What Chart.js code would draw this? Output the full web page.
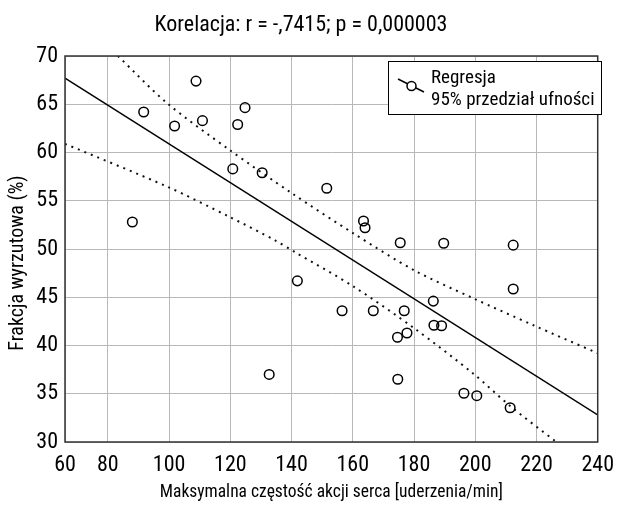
<!DOCTYPE html>
<html>
<head>
<meta charset="utf-8">
<script src="https://cdn.jsdelivr.net/npm/chart.js@4/dist/chart.umd.min.js"></script>
<style>
    html, body { margin: 0; padding: 0; background: #fff; }
</style>
</head>
<body>
<canvas id="wykres" width="624" height="512"></canvas>
<script>
const FONT = "Roboto, 'DejaVu Sans Condensed', sans-serif";
const WASKI = 'condensed'; // wąski krój (Roboto ma oś szerokości)

// punkty pomiarowe
const tetno = [88, 91.7, 101.8, 108.8, 110.9, 120.8, 122.4, 124.8, 130.4, 132.7,
    141.9, 151.5, 163.5, 164, 156.5, 166.7, 175.5, 176.8, 177.7, 174.6,
    174.7, 186.3, 186.5, 189, 189.7, 196.3, 200.5, 211.4, 212.4, 212.4];
const frakcja = [52.8, 64.2, 62.75, 67.4, 63.3, 58.3, 62.9, 64.65, 57.9, 37.0,
    46.7, 56.3, 52.9, 52.2, 43.6, 43.6, 50.65, 43.6, 41.3, 40.85,
    36.5, 44.6, 42.1, 42.05, 50.6, 35.05, 34.8, 33.55, 50.4, 45.85];

// prosta regresji
const regresjaX = [66, 240];
const regresjaY = [67.7, 32.8];

// 95% przedzial ufnosci
const gornaX = [83.3, 99.4, 119.6, 140, 160.3, 180, 199.3, 219, 240];
const gornaY = [70, 65.1, 60.3, 55.8, 51.6, 47.8, 44.9, 42.1, 39.2];
const dolnaX = [66, 99.4, 119.6, 134.6, 141, 160.3, 180, 199.3, 211.5, 226.5];
const dolnaY = [60.9, 56.46, 53.35, 50.9, 49.7, 46.1, 41.8, 37.1, 33.7, 30];

// osie
const xTicks = [66, 80, 100, 120, 140, 160, 180, 200, 220, 240];
const xTickLabels = ['60', '80', '100', '120', '140', '160', '180', '200', '220', '240'];

const tytul = 'Korelacja: r = -,7415; p = 0,000003';
const tytulY = 'Frakcja wyrzutowa (%)';
const legenda = ['Regresja', '95% przedział ufności'];

const pary = (xs, ys) => xs.map((x, i) => ({ x: x, y: ys[i] }));

const ramka = {
    id: 'ramka',
    afterDraw(chart) {
        const { ctx, chartArea: a } = chart;
        ctx.save();
        ctx.strokeStyle = '#333';
        ctx.lineWidth = 1.5;
        ctx.strokeRect(a.left, a.top, a.right - a.left, a.bottom - a.top);

        ctx.fillStyle = '#000';
        ctx.font = WASKI + ' 22px ' + FONT;
        ctx.textAlign = 'center';
        ctx.textBaseline = 'alphabetic';
        ctx.fillText(tytul, 301, 31);

        // tytul osi Y (przesuniety w dol jak w oryginale)
        ctx.save();
        ctx.translate(18, 263);
        ctx.rotate(-Math.PI / 2);
        ctx.font = WASKI + ' 20px ' + FONT;
        ctx.textBaseline = 'middle';
        ctx.fillText(tytulY, 0, 0);
        ctx.restore();

        // legenda
        ctx.fillStyle = '#fff';
        ctx.fillRect(388.5, 61.5, 213, 53);
        ctx.strokeStyle = '#000';
        ctx.lineWidth = 1;
        ctx.strokeRect(388.5, 61.5, 213, 53);
        ctx.lineWidth = 1.5;
        ctx.beginPath();
        ctx.moveTo(398, 79);
        ctx.lineTo(424, 92);
        ctx.stroke();
        ctx.beginPath();
        ctx.arc(411.5, 86, 4.5, 0, Math.PI * 2);
        ctx.fillStyle = '#fff';
        ctx.fill();
        ctx.stroke();
        ctx.fillStyle = '#000';
        ctx.font = WASKI + ' 19px ' + FONT;
        ctx.textAlign = 'left';
        ctx.fillText(legenda[0], 431, 83);
        ctx.fillText(legenda[1], 431, 105);
        ctx.restore();
    }
};

Chart.defaults.font.family = FONT;
Chart.defaults.font.weight = WASKI;
Chart.defaults.color = '#000';

new Chart(document.querySelector('#wykres'), {
    type: 'scatter',
    data: {
        datasets: [
            {
                data: pary(tetno, frakcja),
                pointStyle: 'circle',
                pointRadius: 4.8,
                borderColor: '#000',
                borderWidth: 1.5,
                backgroundColor: 'rgba(0,0,0,0)'
            },
            {
                data: pary(regresjaX, regresjaY),
                showLine: true,
                pointRadius: 0,
                borderColor: '#000',
                borderWidth: 1.5
            },
            {
                data: pary(gornaX, gornaY),
                showLine: true,
                tension: 0.3,
                pointRadius: 0,
                borderColor: '#111',
                borderWidth: 2,
                borderDash: [2, 5]
            },
            {
                data: pary(dolnaX, dolnaY),
                showLine: true,
                tension: 0.3,
                pointRadius: 0,
                borderColor: '#111',
                borderWidth: 2,
                borderDash: [2, 5]
            }
        ]
    },
    options: {
        responsive: false,
        animation: false,
        layout: { padding: { top: 56, right: 17, left: 0, bottom: 0 } },
        scales: {
            x: {
                min: 66,
                max: 240,
                afterFit(s) { s.height = 70; },
                afterBuildTicks(s) { s.ticks = xTicks.map(v => ({ value: v })); },
                grid: { color: '#b8b8b8', borderDash: [1, 2], drawTicks: false },
                border: { display: false },
                ticks: {
                    autoSkip: false,
                    maxRotation: 0,
                    padding: 10,
                    font: { size: 22 },
                    callback: (v, i) => xTickLabels[i]
                },
                title: {
                    display: true,
                    text: 'Maksymalna częstość akcji serca [uderzenia/min]',
                    font: { size: 17.5 },
                    padding: { top: 0, bottom: 9 }
                }
            },
            y: {
                min: 30,
                max: 70,
                afterFit(s) { s.width = 65; },
                grid: { color: '#b8b8b8', borderDash: [1, 2], drawTicks: false },
                border: { display: false },
                ticks: { stepSize: 5, padding: 7, font: { size: 22 } }
            }
        },
        plugins: {
            legend: { display: false },
            tooltip: { enabled: false }
        }
    },
    plugins: [ramka]
});
</script>
</body>
</html>
